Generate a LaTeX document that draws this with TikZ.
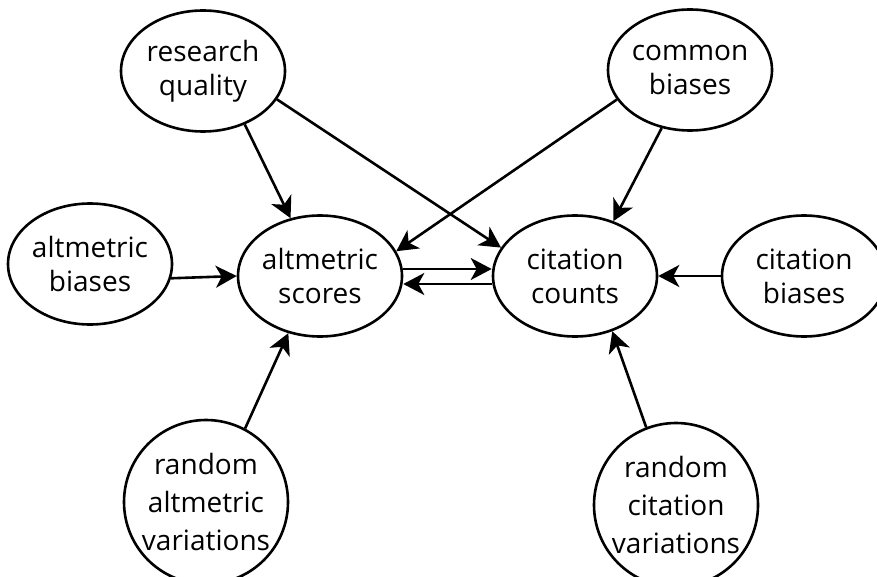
\documentclass[tikz,border=0pt]{standalone}
\usepackage{fontspec}
\setmainfont{Open Sans}
\usepackage{tikz}
\usetikzlibrary{shapes.geometric, arrows.meta}
\tikzstyle{bubble} = [ellipse, minimum width=164pt, minimum height=121pt, inner sep=-10pt, align=center, draw=black, line width=2.6pt, font=\fontsize{28}{34}\selectfont]
\tikzstyle{noise} = [circle, minimum size=164pt, inner sep=-10pt, align=center, draw=black, line width=2.6pt, font=\fontsize{28}{38}\selectfont]
\tikzstyle{arrow} = [line width=2.6pt, -{Stealth[length=21pt, width=22pt, inset=6pt]}]

\begin{document}
\begin{tikzpicture}[x=1pt, y=-1pt]
	\useasboundingbox (0,0) rectangle (877,577);
	\fill[white] (0,0) rectangle (877,577);

	\node (quality) [bubble] at (203,71) {research\\quality};
	\node (common) [bubble] at (690,70) {common\\biases};
	\node (altbias) [bubble] at (90,264) {altmetric\\biases};
	\node (scores) [bubble] at (320,276) {altmetric\\scores};
	\node (counts) [bubble] at (575,276) {citation\\counts};
	\node (citbias) [bubble] at (804,276) {citation\\biases};
	\node (altrand) [noise] at (206,502) {random\\altmetric\\variations};
	\node (citrand) [noise] at (676,505) {random\\citation\\variations};

	\draw [arrow] (quality.-52) -- (scores.117);
	\draw [arrow] (quality.-21) -- (counts.159);
	\draw [arrow] (common.-158) -- (scores.18);
	\draw [arrow] (common.-116) -- (counts.55);
	\draw [arrow] (altbias.-10) -- (scores.west);
	\draw [arrow] ([yshift=7pt]scores.east) -- ([yshift=7pt]counts.west);
	\draw [arrow] ([yshift=-8pt]counts.west) -- ([yshift=-8pt]scores.east);
	\draw [arrow] (citbias.west) -- (counts.east);
	\draw [arrow] (altrand.62) -- (scores.-119);
	\draw [arrow] (citrand.111) -- (counts.-56);
\end{tikzpicture}
\end{document}
